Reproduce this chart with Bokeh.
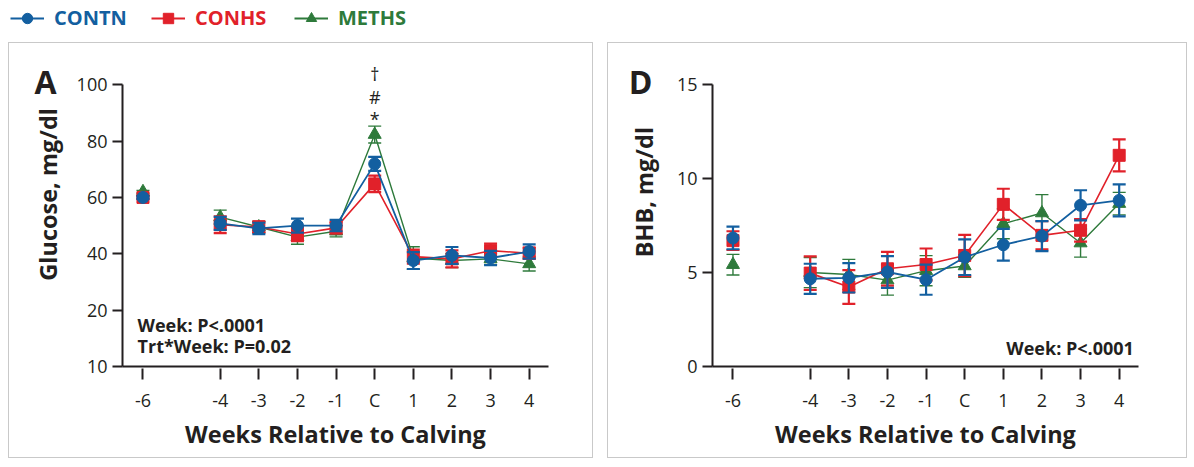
import math
from bokeh.plotting import figure
from bokeh.models import FixedTicker, Range1d, Label, Legend, LegendItem, ColumnDataSource, Spacer
from bokeh.layouts import column, row
from bokeh.embed import file_html
from bokeh.resources import INLINE

weeks = [-6, -4, -3, -2, -1, 0, 1, 2, 3, 4]
week_labels = ["-6", "-4", "-3", "-2", "-1", "C", "1", "2", "3", "4"]

series_names = ["CONTN", "CONHS", "METHS"]

glu_contn = [60.0, 50.8, 49.0, 50.0, 50.0, 71.9, 37.6, 39.4, 38.5, 40.8]
glu_contn_se = [0.5, 2.3, 2.0, 2.5, 2.0, 2.5, 3.0, 3.0, 2.5, 2.5]
glu_conhs = [60.0, 50.3, 49.5, 47.0, 49.2, 64.8, 39.0, 38.2, 41.1, 40.2]
glu_conhs_se = [0.5, 3.0, 2.0, 2.5, 2.0, 2.9, 2.5, 3.0, 2.5, 2.0]
glu_meths = [62.0, 53.0, 49.5, 45.9, 48.0, 82.3, 38.5, 37.6, 38.2, 36.4]
glu_meths_se = [0.5, 2.5, 2.0, 2.5, 2.0, 3.0, 4.0, 2.5, 2.0, 2.5]

bhb_contn = [6.84, 4.67, 4.72, 5.03, 4.62, 5.82, 6.48, 6.94, 8.58, 8.84]
bhb_contn_se = [0.6, 0.8, 0.78, 0.85, 0.8, 0.95, 0.85, 0.8, 0.8, 0.85]
bhb_conhs = [6.7, 4.97, 4.23, 5.2, 5.43, 5.91, 8.63, 6.98, 7.25, 11.24]
bhb_conhs_se = [0.5, 0.89, 0.9, 0.9, 0.85, 1.1, 0.83, 0.75, 0.6, 0.85]
bhb_meths = [5.42, 5.0, 4.9, 4.6, 5.1, 5.35, 7.6, 8.17, 6.57, 8.67]
bhb_meths_se = [0.55, 0.8, 0.8, 0.8, 0.8, 0.6, 0.8, 0.98, 0.75, 0.6]

glu_ticks = [0, 20, 40, 60, 80, 100]
glu_tick_labels = ["10", "20", "40", "60", "80", "100"]
bhb_ticks = [0, 5, 10, 15]

BLUE = "#135fa0"
RED = "#e1212a"
GREEN = "#2e7a3b"
INK = "#231f20"
BORDER = "1px solid #c9c9c9"
FONT = "Open Sans"

STYLE = {
    "CONTN": dict(color=BLUE, marker="circle", size=12, lw_err=2.2, lw_line=1.8),
    "CONHS": dict(color=RED, marker="square", size=12, lw_err=2.2, lw_line=1.6),
    "METHS": dict(color=GREEN, marker="triangle", size=13, lw_err=1.4, lw_line=1.4),
}

H = 416


def add_series(p, y, se, name):
    st = STYLE[name]
    lo = [v - s for v, s in zip(y, se)]
    hi = [v + s for v, s in zip(y, se)]
    src = ColumnDataSource(dict(x=weeks, y=y, lo=lo, hi=hi))
    p.segment(x0="x", y0="lo", x1="x", y1="hi", source=src,
              line_color=st["color"], line_width=st["lw_err"])
    for col in ("lo", "hi"):
        p.scatter(x="x", y=col, source=src, marker="dash", size=13,
                  line_color=st["color"], line_width=st["lw_err"])
    p.line(weeks[1:], y[1:], line_color=st["color"], line_width=st["lw_line"])
    p.scatter(x="x", y="y", source=src, marker=st["marker"], size=st["size"],
              fill_color=st["color"], line_color=st["color"])


def make_strip(width, letter, letter_xy, ylabel, ylabel_xy):
    s = figure(width=width, height=H, x_range=Range1d(0, width), y_range=Range1d(H, 0),
               x_axis_type=None, y_axis_type=None, toolbar_location=None,
               output_backend="svg", min_border=0)
    s.styles = {"border-left": BORDER, "border-top": BORDER, "border-bottom": BORDER}
    s.outline_line_color = None
    s.xgrid.visible = False
    s.ygrid.visible = False
    s.add_layout(Label(x=letter_xy[0], y=letter_xy[1], text=letter, text_font=FONT,
                       text_font_style="bold", text_font_size="32px", text_color=INK,
                       text_align="center", text_baseline="middle"))
    s.add_layout(Label(x=ylabel_xy[0], y=ylabel_xy[1], text=ylabel, text_font=FONT,
                       text_font_style="bold", text_font_size="23.5px", text_color=INK,
                       text_align="center", text_baseline="middle", angle=math.pi / 2))
    return s


def make_panel(width, left_border, right_border, y_top, y_bounds, y_ticks, y_overrides):
    p = figure(width=width, height=H, x_range=Range1d(-6.53, 4.5), y_range=Range1d(0, y_top),
               toolbar_location=None, output_backend="svg",
               min_border_left=left_border, min_border_right=right_border,
               min_border_top=13, min_border_bottom=93)
    p.styles = {"border-right": BORDER, "border-top": BORDER, "border-bottom": BORDER}
    p.outline_line_color = None
    p.xgrid.visible = False
    p.ygrid.visible = False
    p.background_fill_color = "white"
    p.border_fill_color = "white"
    for ax in (p.xaxis[0], p.yaxis[0]):
        ax.axis_line_color = INK
        ax.axis_line_width = 2
        ax.major_tick_line_color = INK
        ax.major_tick_line_width = 2
        ax.minor_tick_line_color = None
        ax.major_label_text_font = FONT
        ax.major_label_text_font_size = "18px"
        ax.major_label_text_color = INK
        ax.axis_label_text_font = FONT
        ax.axis_label_text_font_style = "bold"
        ax.axis_label_text_font_size = "23.5px"
        ax.axis_label_text_color = INK
    p.xaxis.ticker = FixedTicker(ticks=weeks)
    p.xaxis.major_label_overrides = {w: l for w, l in zip(weeks, week_labels)}
    p.xaxis.major_tick_in = -2
    p.xaxis.major_tick_out = 13
    p.xaxis.major_label_standoff = 8
    p.xaxis.axis_label = "Weeks Relative to Calving"
    p.xaxis.axis_label_standoff = 3
    p.yaxis.ticker = FixedTicker(ticks=y_ticks)
    p.yaxis.bounds = y_bounds
    if y_overrides:
        p.yaxis.major_label_overrides = y_overrides
    p.yaxis.major_tick_in = 0
    p.yaxis.major_tick_out = 10
    p.yaxis.major_label_standoff = 5
    return p


# Panel A
stripA = make_strip(62, "A", (36, 34), "Glucose, mg/dl", (38, 185))
pA = make_panel(523, 52, 45, 110.0, (0, 100), glu_ticks,
                {t: l for t, l in zip(glu_ticks, glu_tick_labels)})
add_series(pA, glu_meths, glu_meths_se, "METHS")
add_series(pA, glu_conhs, glu_conhs_se, "CONHS")
add_series(pA, glu_contn, glu_contn_se, "CONTN")
for txt, yy in (("*", 88.0), ("#", 95.5), ("†", 103.9)):
    pA.add_layout(Label(x=0, y=yy, text=txt, text_font=FONT, text_font_size="18px",
                        text_color=INK, text_align="center", text_baseline="middle"))
pA.add_layout(Label(x=-6.14, y=14.9, text="Week: P<.0001", text_font=FONT,
                    text_font_style="bold", text_font_size="18px", text_color=INK,
                    text_align="left", text_baseline="middle"))
pA.add_layout(Label(x=-6.14, y=7.2, text="Trt*Week: P=0.02", text_font=FONT,
                    text_font_style="bold", text_font_size="18px", text_color=INK,
                    text_align="left", text_baseline="middle"))

# Panel D
stripD = make_strip(60, "D", (32, 34), "BHB, mg/dl", (35, 182))
pD = make_panel(520, 45, 49, 16.5, (0, 15), bhb_ticks, None)
add_series(pD, bhb_meths, bhb_meths_se, "METHS")
add_series(pD, bhb_conhs, bhb_conhs_se, "CONHS")
add_series(pD, bhb_contn, bhb_contn_se, "CONTN")
pD.add_layout(Label(x=4.38, y=0.96, text="Week: P<.0001", text_font=FONT,
                    text_font_style="bold", text_font_size="18px", text_color=INK,
                    text_align="right", text_baseline="middle"))

# Legend strip (its renderers hold the glucose series, which lie outside its 0..1 ranges)
leg = figure(width=1178, height=42, toolbar_location=None, output_backend="svg",
             x_range=Range1d(0, 1), y_range=Range1d(0, 1), x_axis_type=None,
             y_axis_type=None, min_border=0)
leg.outline_line_color = None
leg.xgrid.visible = False
leg.ygrid.visible = False
leg_x = {"CONTN": 2, "CONHS": 143, "METHS": 286}
leg_vals = {"CONTN": glu_contn, "CONHS": glu_conhs, "METHS": glu_meths}
for name in series_names:
    st = STYLE[name]
    rl = leg.line(weeks, leg_vals[name], line_color=st["color"], line_width=2)
    rm = leg.scatter(weeks, leg_vals[name], marker=st["marker"], size=st["size"],
                     fill_color=st["color"], line_color=st["color"])
    lg = Legend(items=[LegendItem(label=name, renderers=[rl, rm])],
                location=(leg_x[name], 11), orientation="horizontal",
                label_text_color=st["color"], label_text_font=FONT,
                label_text_font_style="bold", label_text_font_size="20px",
                border_line_color=None, background_fill_alpha=0, padding=0, margin=0,
                glyph_width=34, glyph_height=26, label_height=26, label_standoff=10)
    leg.add_layout(lg)

panels = row(stripA, pA, Spacer(width=14), stripD, pD)
layout = row(Spacer(width=8), column(leg, panels))
open("out.html", "w").write(file_html(layout, INLINE))
